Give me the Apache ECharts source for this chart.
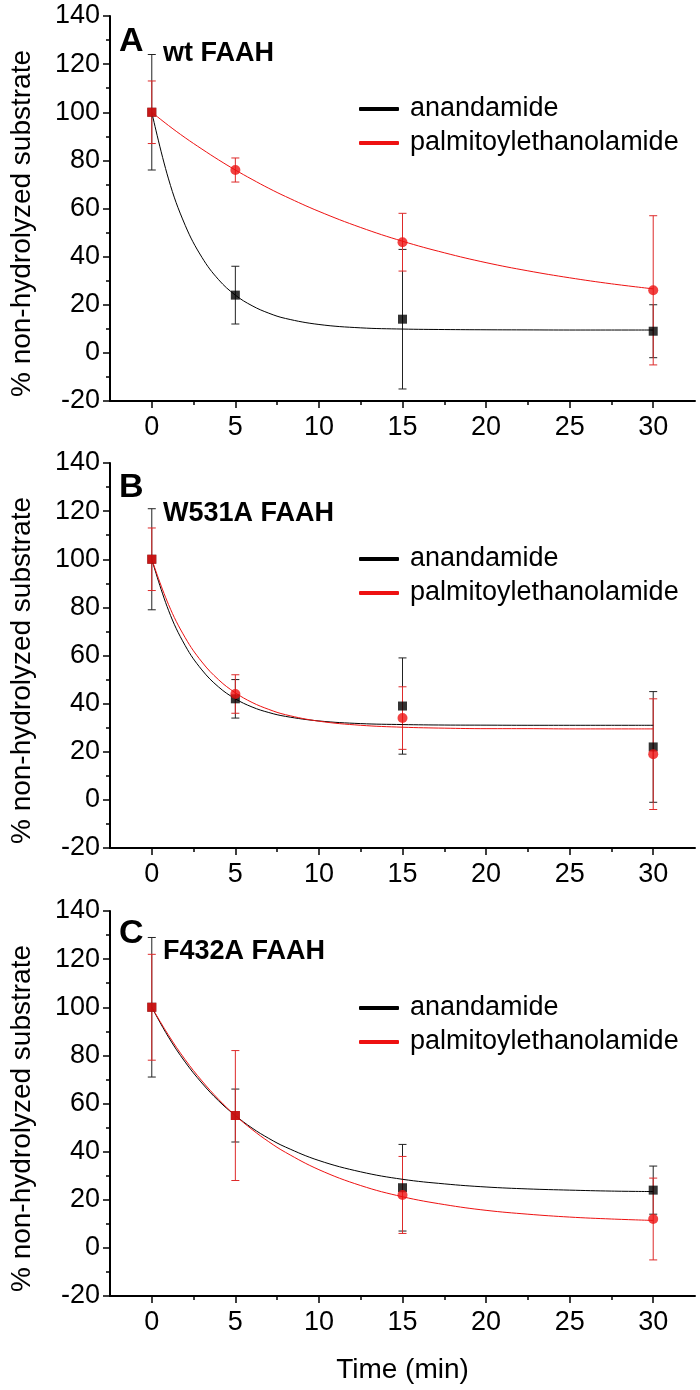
<!DOCTYPE html>
<html>
<head>
<meta charset="utf-8">
<script src="https://cdn.jsdelivr.net/npm/echarts@6/dist/echarts.min.js"></script>
<style>
html,body{margin:0;padding:0;background:#fff;}
#chart{width:700px;height:1390px;}
</style>
</head>
<body>
<div id="chart"></div>
<script>
// ---------- data ----------
const times = [0, 5, 15, 30];
const panelLetters = ['A', 'B', 'C'];
const panelTitles = ['wt FAAH', 'W531A FAAH', 'F432A FAAH'];
const seriesNames = ['anandamide', 'palmitoylethanolamide'];

const aAnaMean = [100, 24, 14, 9];
const aAnaErr  = [24, 12, 29, 11];
const aPeaMean = [100, 76, 46, 26];
const aPeaErr  = [13, 5, 12, 31];

const bAnaMean = [100, 42, 39, 22];
const bAnaErr  = [21, 8, 20, 23];
const bPeaMean = [100, 44, 34, 19];
const bPeaErr  = [13, 8, 13, 23];

const cAnaMean = [100, 55, 25, 24];
const cAnaErr  = [29, 11, 18, 10];
const cPeaMean = [100, 55, 22, 12];
const cPeaErr  = [22, 27, 16, 17];

// fitted curves
const fitT    = [0, 1, 2, 3, 4, 5, 6, 7, 8, 10, 12.5, 15, 17.5, 20, 22.5, 25, 27.5, 30];
const aAnaFit = [100, 72.3, 53.0, 39.7, 30.4, 24.0, 19.6, 16.5, 14.3, 11.8, 10.4, 9.9, 9.7, 9.6, 9.55, 9.5, 9.5, 9.5];
const aPeaFit = [100, 94.5, 89.4, 84.7, 80.2, 76.0, 72.1, 68.4, 65.0, 58.8, 52.1, 46.4, 41.6, 37.5, 34.1, 31.2, 28.7, 26.6];
const bAnaFit = [100, 78.8, 64.1, 54.0, 46.9, 42.0, 38.6, 36.3, 34.7, 32.8, 31.7, 31.3, 31.1, 31.05, 31.0, 31.0, 31.0, 31.0];
const bPeaFit = [100, 81.2, 67.4, 57.3, 49.9, 44.5, 40.5, 37.6, 35.4, 32.7, 31.0, 30.2, 29.8, 29.6, 29.6, 29.5, 29.5, 29.5];
const cAnaFit = [100, 87.6, 77.2, 68.5, 61.1, 55.0, 49.8, 45.5, 41.9, 36.3, 31.6, 28.5, 26.6, 25.3, 24.5, 24.0, 23.6, 23.4];
const cPeaFit = [100, 88.4, 78.2, 69.4, 61.7, 55.0, 49.2, 44.1, 39.7, 32.5, 25.9, 21.25, 18.0, 15.6, 14.0, 12.8, 12.0, 11.4];

const xMajorTicks = [0, 5, 10, 15, 20, 25, 30];
const xMinorTicks = [2.5, 7.5, 12.5, 17.5, 22.5, 27.5];
const yName = '% non-hydrolyzed substrate';
const xName = 'Time (min)';

// ---------- layout ----------
const panels = [
  {ana: aAnaMean, anaE: aAnaErr, pea: aPeaMean, peaE: aPeaErr, anaFit: aAnaFit, peaFit: aPeaFit,
   top: 16, letterTop: 25, titleTop: 40, legendTop: 95},
  {ana: bAnaMean, anaE: bAnaErr, pea: bPeaMean, peaE: bPeaErr, anaFit: bAnaFit, peaFit: bPeaFit,
   top: 463, letterTop: 471, titleTop: 500, legendTop: 545},
  {ana: cAnaMean, anaE: cAnaErr, pea: cPeaMean, peaE: cPeaErr, anaFit: cAnaFit, peaFit: cPeaFit,
   top: 911, letterTop: 917, titleTop: 938, legendTop: 994}
];
const GL = 110, GW = 585, GH = 385;
const FONT = 'Liberation Sans, Arial, sans-serif';
const BLACK = '#000000', RED = '#ee1111';

const grid = [], xAxis = [], yAxis = [], series = [], title = [], legend = [];

function errRender(color) {
  return function (params, api) {
    const x = api.value(0), m = api.value(1), e = api.value(2);
    const t = api.coord([x, m + e]);
    const b = api.coord([x, m - e]);
    const cap = 4;
    const st = {stroke: color, lineWidth: 1};
    return {type: 'group', children: [
      {type: 'line', shape: {x1: t[0], y1: t[1], x2: b[0], y2: b[1]}, style: st},
      {type: 'line', shape: {x1: t[0] - cap, y1: t[1], x2: t[0] + cap, y2: t[1]}, style: st},
      {type: 'line', shape: {x1: b[0] - cap, y1: b[1], x2: b[0] + cap, y2: b[1]}, style: st}
    ]};
  };
}

panels.forEach((p, i) => {
  grid.push({left: GL, top: p.top, width: GW, height: GH});
  const last = i === panels.length - 1;
  xAxis.push({
    type: 'value', gridIndex: i, min: -2.5, max: 32.5,
    name: last ? xName : '', nameLocation: 'middle', nameGap: 60,
    nameTextStyle: {fontSize: 28, color: BLACK, fontFamily: FONT},
    axisLine: {show: true, onZero: false, lineStyle: {color: BLACK, width: 2}},
    axisTick: {show: true, inside: false, length: 7, customValues: xMajorTicks, lineStyle: {color: BLACK, width: 1.5}},
    axisLabel: {show: true, customValues: xMajorTicks, margin: 13, fontSize: 27, color: BLACK, fontFamily: FONT},
    splitLine: {show: false}
  });
  xAxis.push({
    type: 'value', gridIndex: i, min: -2.5, max: 32.5, position: 'bottom',
    axisLine: {show: false, onZero: false},
    axisTick: {show: true, inside: false, length: 4, customValues: xMinorTicks, lineStyle: {color: BLACK, width: 1.5}},
    axisLabel: {show: false},
    splitLine: {show: false}
  });
  yAxis.push({
    type: 'value', gridIndex: i, min: -20, max: 140, interval: 20,
    name: yName, nameLocation: 'middle', nameGap: 74, nameRotate: 90,
    nameTextStyle: {fontSize: 28, color: BLACK, fontFamily: FONT, padding: [0, 30, 0, 0]},
    axisLine: {show: true, onZero: false, lineStyle: {color: BLACK, width: 2}},
    axisTick: {show: true, inside: false, length: 7, lineStyle: {color: BLACK, width: 1.5}},
    minorTick: {show: true, splitNumber: 2, length: 4, lineStyle: {color: BLACK, width: 1.5}},
    axisLabel: {margin: 10, fontSize: 27, color: BLACK, fontFamily: FONT},
    splitLine: {show: false}
  });
  title.push({text: panelLetters[i], left: 119, top: p.letterTop, padding: 0,
    textStyle: {fontSize: 34, fontWeight: 'bold', color: BLACK, fontFamily: FONT}});
  title.push({text: panelTitles[i], left: 163, top: p.titleTop, padding: 0,
    textStyle: {fontSize: 27, fontWeight: 'bold', color: BLACK, fontFamily: FONT}});
  legend.push({
    data: seriesNames, orient: 'vertical', left: 359, top: p.legendTop, padding: 0,
    icon: 'roundRect', itemWidth: 40, itemHeight: 4, itemGap: 6, selectedMode: false,
    textStyle: {fontSize: 27, lineHeight: 28, color: BLACK, fontFamily: FONT, padding: [0, 0, 0, 6]}
  });

  const xi = 2 * i, yi = i;
  series.push({
    type: 'custom', name: 'ana-err-' + i, xAxisIndex: xi, yAxisIndex: yi, silent: true, z: 2,
    renderItem: errRender('#222222'), encode: {x: 0, y: 1},
    data: times.map((t, k) => [t, p.ana[k], p.anaE[k]])
  });
  series.push({
    type: 'custom', name: 'pea-err-' + i, xAxisIndex: xi, yAxisIndex: yi, silent: true, z: 3,
    renderItem: errRender('#dd2a2a'), encode: {x: 0, y: 1},
    data: times.map((t, k) => [t, p.pea[k], p.peaE[k]])
  });
  series.push({
    type: 'line', name: seriesNames[0], xAxisIndex: xi, yAxisIndex: yi, z: 4,
    color: BLACK, smooth: 0.4, showSymbol: false, symbol: 'none',
    lineStyle: {color: BLACK, width: 1}, silent: true,
    data: fitT.map((t, k) => [t, p.anaFit[k]])
  });
  series.push({
    type: 'line', name: seriesNames[1], xAxisIndex: xi, yAxisIndex: yi, z: 4,
    color: RED, smooth: 0.4, showSymbol: false, symbol: 'none',
    lineStyle: {color: RED, width: 1}, silent: true,
    data: fitT.map((t, k) => [t, p.peaFit[k]])
  });
  series.push({
    type: 'scatter', name: 'ana-pts-' + i, xAxisIndex: xi, yAxisIndex: yi, z: 5,
    symbol: 'rect', symbolSize: 9, itemStyle: {color: BLACK}, silent: true,
    data: times.map((t, k) => [t, p.ana[k]])
  });
  series.push({
    type: 'scatter', name: 'pea-pts-' + i, xAxisIndex: xi, yAxisIndex: yi, z: 6,
    symbol: (v, prm) => (p.ana[prm.dataIndex] === p.pea[prm.dataIndex] ? 'rect' : 'circle'),
    symbolSize: (v, prm) => (p.ana[prm.dataIndex] === p.pea[prm.dataIndex] ? 9 : 10),
    itemStyle: {color: RED}, silent: true,
    data: times.map((t, k) => [t, p.pea[k]])
  });
});

const chart = echarts.init(document.getElementById('chart'), null, {renderer: 'canvas'});
chart.setOption({
  animation: false,
  backgroundColor: '#ffffff',
  grid, xAxis, yAxis, series, title, legend
});
</script>
</body>
</html>
